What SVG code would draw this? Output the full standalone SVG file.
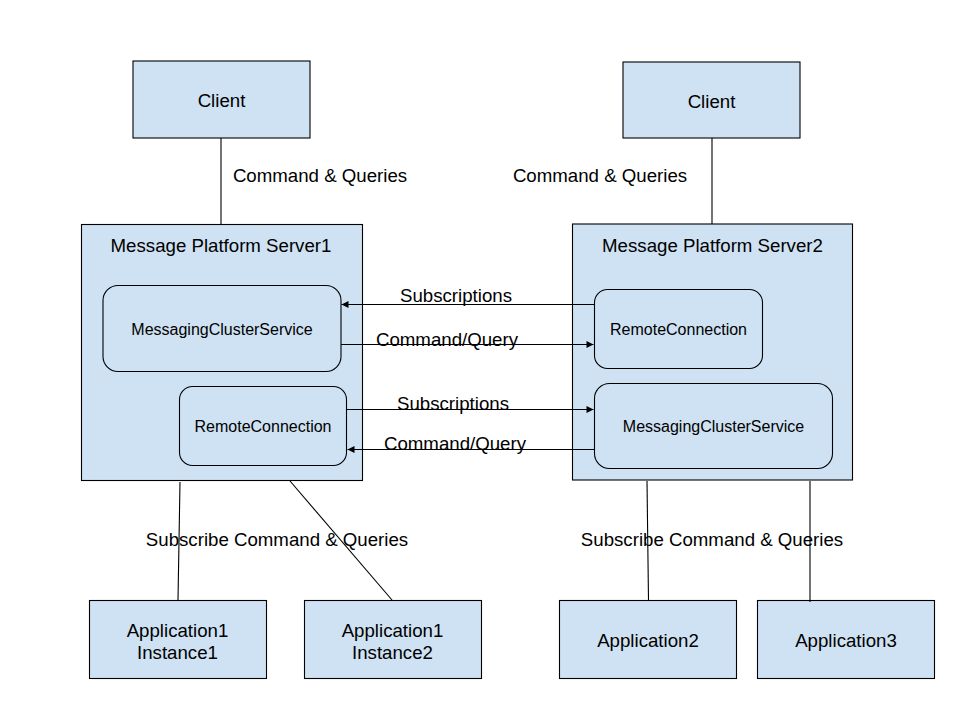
<svg xmlns="http://www.w3.org/2000/svg" width="960" height="720" viewBox="0 0 960 720">
<defs>
<style>
.box{fill:#cfe2f3;stroke:#000;stroke-width:1.1}
.t{font-family:"Liberation Sans",Arial,sans-serif;fill:#000;text-anchor:middle}
.l{font-size:18.67px}
.s{font-size:16px}
.c{stroke:#000;stroke-width:1.1;fill:none}
</style>
<marker id="ah" viewBox="0 0 10 10" refX="10" refY="5" markerWidth="8" markerHeight="7" markerUnits="userSpaceOnUse" orient="auto">
<path d="M0,0 L10,5 L0,10 z" fill="#000"/>
</marker>
</defs>
<rect width="960" height="720" fill="#fff"/>
<g id="client1">
<rect class="box" x="133" y="61" width="177" height="77"/>
<text class="t l" x="221.5" y="107">Client</text>
</g>
<g id="client2">
<rect class="box" x="623" y="62" width="177" height="76"/>
<text class="t l" x="711.5" y="108">Client</text>
</g>
<g id="server1">
<rect class="box" x="81.5" y="224.5" width="281" height="256"/>
<text class="t l" x="221" y="251.5">Message Platform Server1</text>
</g>
<g id="mcs1">
<rect class="box" x="103" y="285.5" width="238" height="86" rx="15"/>
<text class="t s" x="222" y="334.5">MessagingClusterService</text>
</g>
<g id="rc1">
<rect class="box" x="179.5" y="386.5" width="167" height="79" rx="13"/>
<text class="t s" x="263" y="432">RemoteConnection</text>
</g>
<g id="server2">
<rect class="box" x="572.5" y="224" width="280" height="256"/>
<text class="t l" x="712.5" y="251.5">Message Platform Server2</text>
</g>
<g id="rc2">
<rect class="box" x="594.5" y="289.5" width="168" height="79" rx="13"/>
<text class="t s" x="678.5" y="335">RemoteConnection</text>
</g>
<g id="mcs2">
<rect class="box" x="594.5" y="383.5" width="238" height="85" rx="15"/>
<text class="t s" x="713.5" y="432">MessagingClusterService</text>
</g>
<g id="app1i1">
<rect class="box" x="89.5" y="600.5" width="177" height="78"/>
<text class="t l" x="177.5" y="637">Application1</text>
<text class="t l" x="177.5" y="658.5">Instance1</text>
</g>
<g id="app1i2">
<rect class="box" x="304.5" y="600.5" width="177" height="78"/>
<text class="t l" x="392.5" y="637">Application1</text>
<text class="t l" x="392.5" y="658.5">Instance2</text>
</g>
<g id="app2">
<rect class="box" x="559.5" y="600.5" width="177" height="78"/>
<text class="t l" x="648" y="647">Application2</text>
</g>
<g id="app3">
<rect class="box" x="757.5" y="600.5" width="177" height="78"/>
<text class="t l" x="846" y="647">Application3</text>
</g>
<g id="connectors">
<line class="c" x1="221" y1="138" x2="221" y2="224"/>
<line class="c" x1="712" y1="138" x2="712" y2="224"/>
<line class="c" x1="594" y1="304.5" x2="341.5" y2="304.5" marker-end="url(#ah)"/>
<line class="c" x1="341" y1="344.5" x2="593.5" y2="344.5" marker-end="url(#ah)"/>
<line class="c" x1="347" y1="409.5" x2="593.5" y2="409.5" marker-end="url(#ah)"/>
<line class="c" x1="594" y1="449.5" x2="347.5" y2="449.5" marker-end="url(#ah)"/>
<line class="c" x1="180" y1="482" x2="178" y2="600"/>
<line class="c" x1="290" y1="481" x2="392" y2="600"/>
<line class="c" x1="647" y1="481" x2="648.5" y2="600"/>
<line class="c" x1="810" y1="481" x2="810" y2="602"/>
<text class="t l" x="320" y="182">Command &amp; Queries</text>
<text class="t l" x="600" y="182">Command &amp; Queries</text>
<text class="t l" x="456" y="302">Subscriptions</text>
<text class="t l" x="447" y="346">Command/Query</text>
<text class="t l" x="453" y="410">Subscriptions</text>
<text class="t l" x="455" y="450">Command/Query</text>
<text class="t l" x="277" y="546">Subscribe Command &amp; Queries</text>
<text class="t l" x="712" y="546">Subscribe Command &amp; Queries</text>
</g>
</svg>
